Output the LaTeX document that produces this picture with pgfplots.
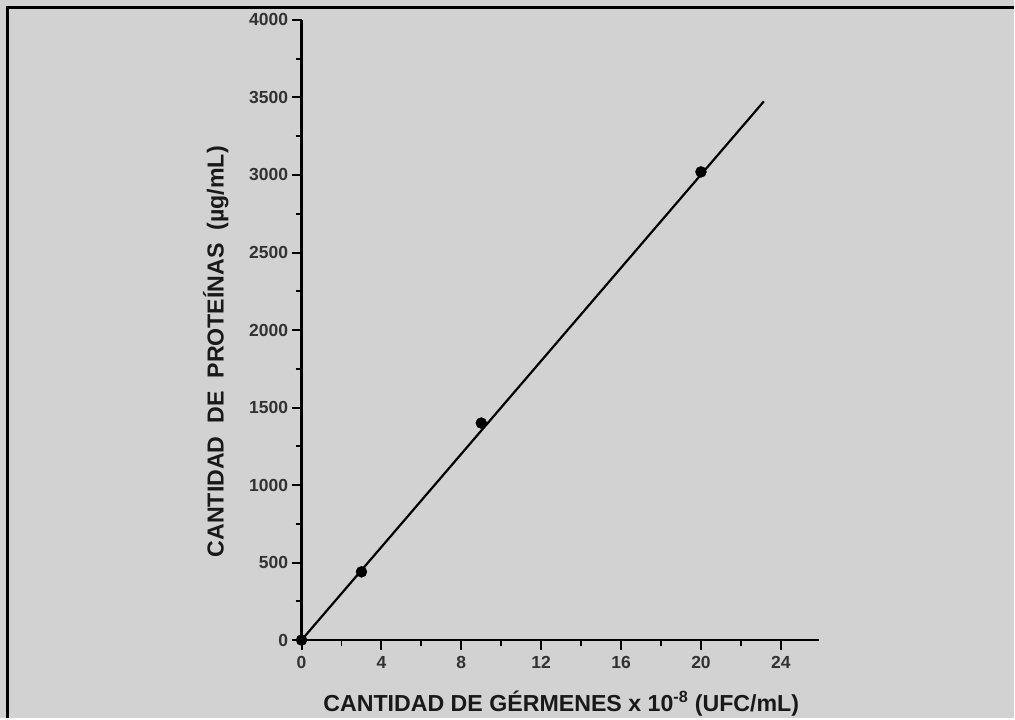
\documentclass[border=0pt]{standalone}
\usepackage{pgfplots}
\pgfplotsset{compat=1.18}
\usepackage{fontspec}
\setmainfont{Liberation Sans}
\definecolor{bg}{RGB}{210,210,210}
\definecolor{tk}{RGB}{50,50,50}
\begin{document}
\begin{tikzpicture}[x=1pt,y=1pt]
\fill[bg] (0,0) rectangle (1015,719);
\draw[line width=3pt] (7.5,0) -- (7.5,711.5) -- (1015,711.5);
\begin{axis}[at={(302pt,78pt)}, anchor=south west, scale only axis,
  width=518pt, height=621pt,
  xmin=0, xmax=25.9, ymin=0, ymax=4000,
  axis lines=left, axis line style={line width=2.4pt, -},
  xtick={0,4,...,24}, ytick={0,500,...,4000},
  minor x tick num=1, minor y tick num=1,
  tick align=outside, major tick length=10pt, minor tick length=6pt,
  tick style={line width=2pt, black},
  tick label style={font=\bfseries\fontsize{17.5}{20}\selectfont, text=tk},
  xticklabel style={yshift=-3pt},
  /pgf/number format/assume math mode=true, /pgf/number format/1000 sep={},
  xlabel={CANTIDAD DE GÉRMENES x 10\textsuperscript{-8} (UFC/mL)},
  ylabel={CANTIDAD\ \ DE\ \ PROTEÍNAS\ \ (µg/mL)},
  label style={text=black!90},
  xlabel style={font=\bfseries\fontsize{23.2}{26}\selectfont, at={(axis description cs:0.502,-0.103)}, anchor=center},
  ylabel style={font=\bfseries\fontsize{23.2}{26}\selectfont, at={(axis description cs:-0.166,0.465)}, anchor=center, rotate=0},
  clip=false]
\addplot[black, line width=2.2pt, no marks] coordinates {(0,0) (23.15,3475)};
\addplot[only marks, mark=*, mark size=5.5pt, black] coordinates {(0,0) (3,440) (9,1400) (20,3020)};
\end{axis}
\end{tikzpicture}
\end{document}
